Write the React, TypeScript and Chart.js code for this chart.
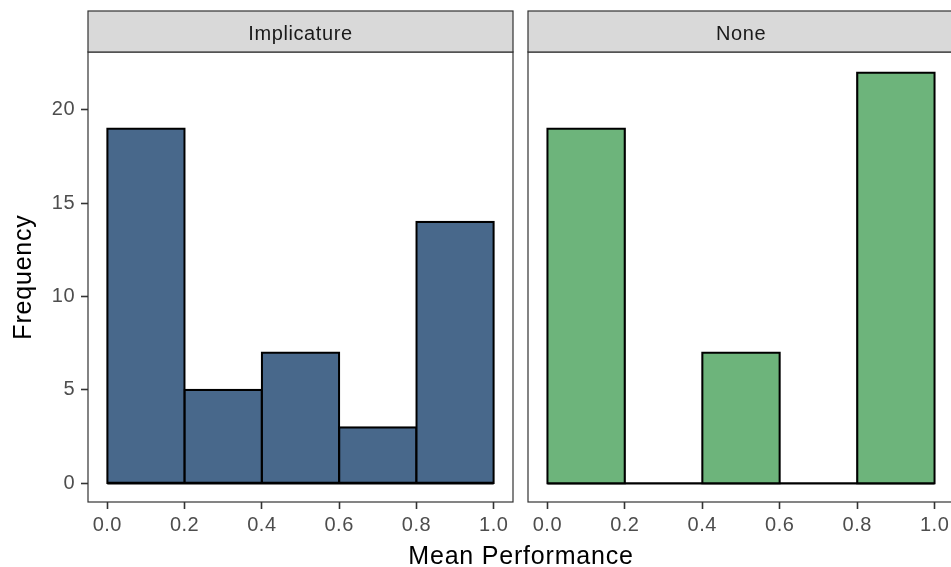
import React, { useEffect, useRef } from "react";
import { Chart, registerables } from "chart.js";

Chart.register(...registerables);

// ---- data ----
const binMids = [0.1, 0.3, 0.5, 0.7, 0.9];
const binRange = [0, 1];
const implicatureCounts = [19, 5, 7, 3, 14];
const noneCounts = [19, 0, 7, 0, 22];
const xTickValues = [0, 0.2, 0.4, 0.6, 0.8, 1.0];
const yTickValues = [0, 5, 10, 15, 20];
const panelLabels = ["Implicature", "None"];
const xTitle = "Mean Performance";
const yTitle = "Frequency";

const FONT = "'Liberation Sans', Arial, Helvetica, sans-serif";
const W = 951;
const H = 567;

function makePlugin(label: string, isLeft: boolean) {
  return {
    id: "facet" + label,
    beforeDraw(chart: any) {
      (chart.ctx as any).letterSpacing = "0.5px";
    },
    afterDraw(chart: any) {
      const ctx = chart.ctx as CanvasRenderingContext2D;
      const a = chart.chartArea;
      ctx.save();
      // panel border
      ctx.strokeStyle = "#333333";
      ctx.lineWidth = 1.2;
      ctx.strokeRect(a.left, a.top, a.right - a.left, a.bottom - a.top);
      // strip
      const sTop = 11;
      ctx.fillStyle = "#D9D9D9";
      ctx.fillRect(a.left, sTop, a.right - a.left, a.top - sTop);
      ctx.strokeRect(a.left, sTop, a.right - a.left, a.top - sTop);
      (ctx as any).letterSpacing = "0.6px";
      ctx.fillStyle = "#1A1A1A";
      ctx.font = `20px ${FONT}`;
      ctx.textAlign = "center";
      ctx.textBaseline = "alphabetic";
      ctx.fillText(label, (a.left + a.right) / 2, 40);
      // titles
      (ctx as any).letterSpacing = "0.8px";
      ctx.fillStyle = "#000000";
      ctx.font = `25px ${FONT}`;
      if (isLeft) {
        ctx.save();
        ctx.translate(30.5, (a.top + a.bottom) / 2);
        ctx.rotate(-Math.PI / 2);
        ctx.textAlign = "center";
        ctx.fillText(yTitle, 0, 0);
        ctx.restore();
      } else {
        ctx.textAlign = "center";
        ctx.fillText(xTitle, 521, 564);
      }
      ctx.restore();
    },
  };
}

function buildConfig(counts: number[], color: string, label: string, isLeft: boolean, padding: any): any {
  return {
    type: "bar",
    data: {
      datasets: [
        {
          type: "bar",
          data: binMids.map((x, i) => ({ x, y: counts[i] })),
          backgroundColor: color,
          borderColor: "#000000",
          borderWidth: 2.2,
          borderSkipped: false,
          inflateAmount: 1.1,
          barPercentage: 1,
          categoryPercentage: 1,
          order: 1,
        },
        {
          type: "line",
          data: binRange.map((x) => ({ x, y: 0 })),
          borderColor: "#000000",
          borderWidth: 2.2,
          pointRadius: 0,
          order: 2,
        },
      ],
    },
    options: {
      responsive: false,
      animation: false,
      devicePixelRatio: 1,
      layout: { padding },
      plugins: { legend: { display: false }, tooltip: { enabled: false } },
      scales: {
        x: {
          type: "linear",
          min: -0.05,
          max: 1.05,
          offset: false,
          afterBuildTicks: (s: any) => {
            s.ticks = xTickValues.map((v) => ({ value: v }));
          },
          afterFit: (s: any) => {
            s.height = 65;
          },
          border: { display: false },
          grid: {
            offset: false,
            drawOnChartArea: false,
            drawTicks: true,
            tickLength: 7,
            tickColor: "#333333",
            tickWidth: 1.6,
          },
          ticks: {
            padding: 4,
            color: "#4D4D4D",
            font: { family: FONT, size: 20 },
            maxRotation: 0,
            autoSkip: false,
            callback: (v: any) => Number(v).toFixed(1),
          },
        },
        y: {
          type: "linear",
          display: isLeft,
          min: -1.0,
          max: 23.1,
          afterBuildTicks: (s: any) => {
            s.ticks = yTickValues.map((v) => ({ value: v }));
          },
          afterFit: (s: any) => {
            s.width = isLeft ? 88 : 0;
          },
          border: { display: false },
          grid: {
            drawOnChartArea: false,
            drawTicks: true,
            tickLength: 7,
            tickColor: "#333333",
            tickWidth: 1.6,
          },
          ticks: {
            padding: 6,
            color: "#4D4D4D",
            font: { family: FONT, size: 20 },
            autoSkip: false,
            callback: (v: any) => String(v),
          },
        },
      },
    },
    plugins: [makePlugin(label, isLeft)],
  };
}

export default function App() {
  const leftRef = useRef<HTMLCanvasElement>(null);
  const rightRef = useRef<HTMLCanvasElement>(null);

  useEffect(() => {
    const c1 = new Chart(
      leftRef.current as HTMLCanvasElement,
      buildConfig(implicatureCounts, "#48688B", panelLabels[0], true, { top: 52, right: W - 513, left: 0, bottom: 0 })
    );
    const c2 = new Chart(
      rightRef.current as HTMLCanvasElement,
      buildConfig(noneCounts, "#6DB47B", panelLabels[1], false, { top: 52, right: 6, left: 528, bottom: 0 })
    );
    return () => {
      c1.destroy();
      c2.destroy();
    };
  }, []);

  return (
    <div
      style={{
        position: "fixed",
        left: 0,
        top: 0,
        width: W,
        height: H,
        overflow: "hidden",
        background: "#FFFFFF",
      }}
    >
      <canvas ref={leftRef} width={W} height={H} style={{ position: "absolute", left: 0, top: 0, width: W, height: H }} />
      <canvas ref={rightRef} width={960} height={H} style={{ position: "absolute", left: 0, top: 0, width: 960, height: H }} />
    </div>
  );
}
